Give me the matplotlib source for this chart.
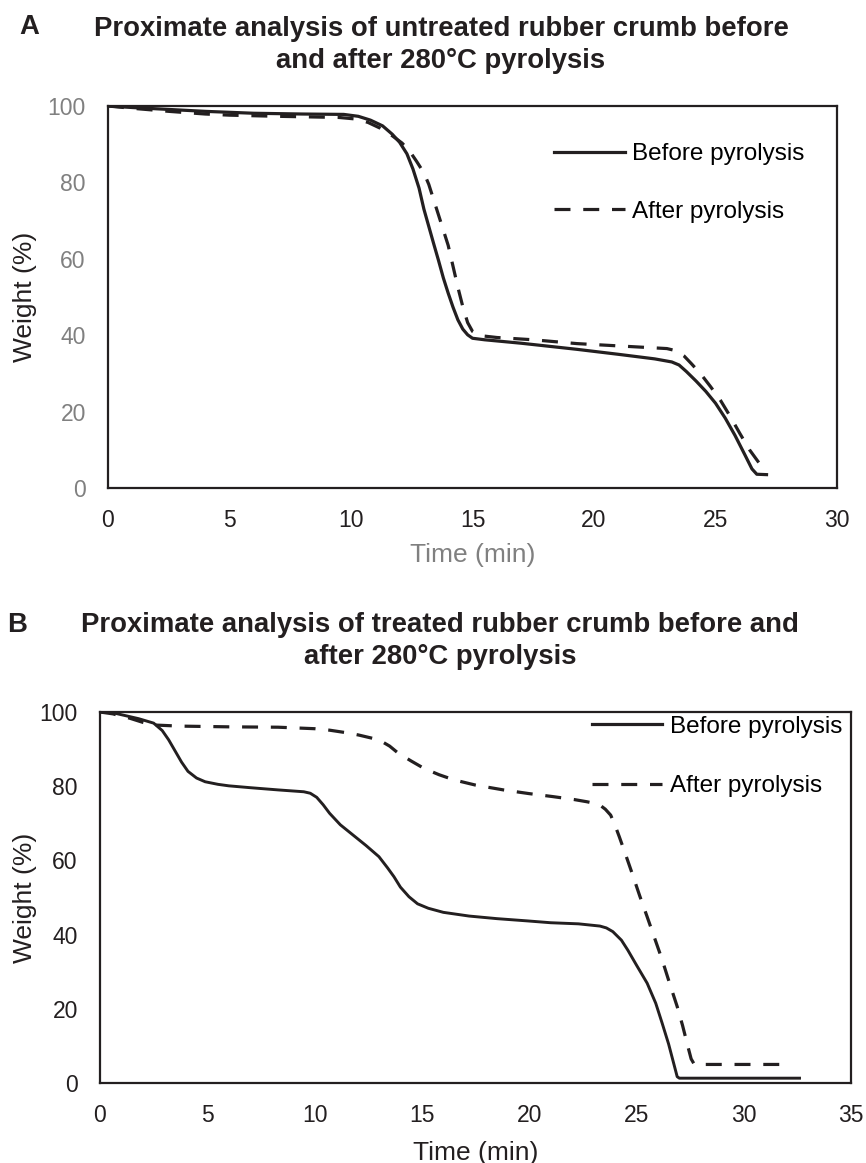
import matplotlib
matplotlib.use("Agg")
import matplotlib.pyplot as plt
from matplotlib.lines import Line2D

plt.rcParams["font.family"] = ["Liberation Sans", "DejaVu Sans"]

# Panel A: untreated rubber crumb
a_time_before = [0, 1, 2.5, 4, 6, 8, 9.7, 10.3, 10.8, 11.3, 11.7, 12.0, 12.3, 12.55, 12.8,
                 13.0, 13.2, 13.4, 13.6, 13.8, 14.0, 14.2, 14.4, 14.6, 14.8, 15.0, 15.5,
                 17, 19.3, 21, 22.5, 23.2, 23.5, 23.8, 24.2, 24.6, 25.0, 25.4, 25.8, 26.2,
                 26.5, 26.7, 27.1]
a_weight_before = [100, 99.6, 99.1, 98.6, 98.1, 97.9, 97.8, 97.3, 96.3, 94.8, 92.6, 90.5,
                   87.5, 83.5, 78.5, 73, 68.5, 64, 59.6, 55, 51, 47.3, 44, 41.6, 40.1, 39.2,
                   38.8, 37.9, 36.3, 35.0, 33.8, 33.0, 32.2, 30.5, 28.0, 25.3, 22.2, 18.3,
                   13.8, 8.8, 5.0, 3.6, 3.5]
a_time_after = [0, 1, 2.5, 4, 5, 7, 9.5, 10.2, 10.7, 11.2, 11.7, 12.1, 12.4, 12.7, 13.0,
                13.2, 13.4, 13.6, 13.8, 14.0, 14.2, 14.4, 14.6, 14.8, 15.0, 15.3, 16, 17.5,
                19.3, 21, 23, 23.4, 23.7, 24.0, 24.4, 24.8, 25.2, 25.6, 26.0, 26.4, 26.8,
                27.0, 27.2]
a_weight_after = [100, 99.4, 98.6, 97.9, 97.6, 97.3, 97.0, 96.6, 95.7, 94.2, 92.2, 90.3,
                  88.3, 85.5, 82.5, 79.5, 75.5, 71.5, 67.5, 63.5, 58, 52.5, 47.5, 43.3, 41,
                  39.9, 39.4, 38.8, 37.8, 37.2, 36.5, 35.9, 34.6, 32.6, 29.8, 26.5, 23,
                  18.8, 14.3, 10, 6.5, 5.3, 4.8]

# Panel B: treated rubber crumb
b_time_before = [0, 0.6, 1.2, 1.8, 2.5, 2.9, 3.2, 3.5, 3.8, 4.1, 4.5, 4.9, 5.5, 6.0, 7,
                 8.3, 9.5, 9.8, 10.1, 10.4, 10.7, 11.2, 11.8, 12.4, 13.0, 13.4, 13.7, 14.0,
                 14.4, 14.8, 15.3, 16, 17.2, 18.5, 19.9, 21, 22.3, 23.3, 23.6, 23.9, 24.3,
                 24.6, 25.0, 25.5, 25.9, 26.2, 26.5, 26.75, 26.9, 27.0, 32.6]
b_weight_before = [100, 99.8, 99, 98.2, 97, 95, 92.5, 89.5, 86.5, 84, 82.2, 81.2, 80.5,
                   80.1, 79.6, 79, 78.5, 78.1, 77, 75, 72.7, 69.6, 66.8, 64, 61, 58, 55.6,
                   52.8, 50.2, 48.3, 47.1, 46, 45, 44.3, 43.7, 43.2, 42.9, 42.3, 41.8, 40.8,
                   38.5, 35.8, 31.8, 26.9, 21.5, 16.1, 10.5, 5, 1.7, 1.3, 1.3]
b_time_after = [0, 0.6, 1.4, 2.0, 2.5, 3.7, 6, 8.3, 10, 10.7, 11.5, 12.05, 13.0, 13.5,
                13.9, 14.5, 15.1, 15.8, 16.5, 17.5, 18.8, 20, 21.1, 22.1, 22.7, 23.1, 23.3,
                23.55, 23.8, 24.0, 24.2, 24.5, 24.8, 25.15, 25.5, 25.85, 26.2, 26.55, 26.9,
                27.15, 27.4, 27.55, 27.7, 32.2]
b_weight_after = [100, 99.5, 98.3, 97.2, 96.5, 96.2, 96.0, 95.9, 95.5, 95.1, 94.4, 93.8,
                  92.5, 90.8, 88.9, 86.8, 84.8, 83.1, 81.7, 80.3, 79, 78, 77.2, 76.4, 75.8,
                  75.3, 74.9, 73.8, 72.2, 69.5, 66.4, 61.5, 56.5, 50.5, 44.8, 39, 33.2,
                  26.8, 20.6, 15.5, 9.8, 6.5, 5.0, 5.0]

labels = ["Before pyrolysis", "After pyrolysis"]
title_a = "Proximate analysis of untreated rubber crumb before\nand after 280\u00b0C pyrolysis"
title_b = "Proximate analysis of treated rubber crumb before and\nafter 280\u00b0C pyrolysis"

INK = "#231f20"
GREY = "#808080"
W, H = 866, 1163

fig = plt.figure(figsize=(W / 100, H / 100), dpi=100)
ax1 = fig.add_axes([108 / W, 1 - 488 / H, 729 / W, 382 / H])
ax2 = fig.add_axes([100 / W, 1 - 1083 / H, 751 / W, 371 / H])

dash = (5, 4)
ax1.plot(a_time_before, a_weight_before, color=INK, lw=2.3)
ax1.plot(a_time_after, a_weight_after, color=INK, lw=2.3, dashes=dash)
ax2.plot(b_time_before, b_weight_before, color=INK, lw=2.1)
ax2.plot(b_time_after, b_weight_after, color=INK, lw=2.3, dashes=dash)

ax1.set_xlim(0, 30)
ax1.set_xticks(range(0, 31, 5))
ax2.set_xlim(0, 35)
ax2.set_xticks(range(0, 36, 5))

for ax in (ax1, ax2):
    ax.set_ylim(0, 100)
    ax.set_yticks(range(0, 101, 20))
    ax.tick_params(length=0, labelsize=16.5, colors=INK)
    ax.tick_params(axis="y", pad=16)
    ax.tick_params(axis="x", pad=15)
    for s in ax.spines.values():
        s.set_color(INK)
        s.set_linewidth(1.6)

# panel A uses grey text on the y ticks and x label
ax1.tick_params(axis="y", labelcolor=GREY)
ax1.set_xlabel("Time (min)", fontsize=19, color=GREY)
ax1.set_ylabel("Weight (%)", fontsize=19, color=INK)
ax2.set_xlabel("Time (min)", fontsize=19, color=INK)
ax2.set_ylabel("Weight (%)", fontsize=19, color=INK)
ax1.xaxis.set_label_coords(0.5, -0.144)
ax1.yaxis.set_label_coords(-0.097, 0.5)
ax2.xaxis.set_label_coords(0.5, -0.155)
ax2.yaxis.set_label_coords(-0.084, 0.5)

handles = [Line2D([], [], color=INK, lw=2.3),
           Line2D([], [], color=INK, lw=2.3, dashes=dash)]
ax1.legend(handles, labels, loc="upper left", bbox_to_anchor=(0.612, 0.902),
           frameon=False, fontsize=17.5, handlelength=2.9, handletextpad=0.3,
           labelspacing=1.45, borderpad=0, borderaxespad=0)
ax2.legend(handles, labels, loc="upper left", bbox_to_anchor=(0.655, 0.99),
           frameon=False, fontsize=17.5, handlelength=2.9, handletextpad=0.3,
           labelspacing=1.55, borderpad=0, borderaxespad=0)

fig.text(29 / W, 1 - 27 / H, "A", fontsize=19.8, weight="bold", color=INK,
         ha="center", va="center")
fig.text(441 / W, 1 - 44.5 / H, title_a, fontsize=19.8, weight="bold", color=INK,
         ha="center", va="center", linespacing=1.3)
fig.text(17 / W, 1 - 625 / H, "B", fontsize=19.8, weight="bold", color=INK,
         ha="center", va="center")
fig.text(440 / W, 1 - 641 / H, title_b, fontsize=19.8, weight="bold", color=INK,
         ha="center", va="center", linespacing=1.3)

fig.savefig("out.png", dpi=100)
